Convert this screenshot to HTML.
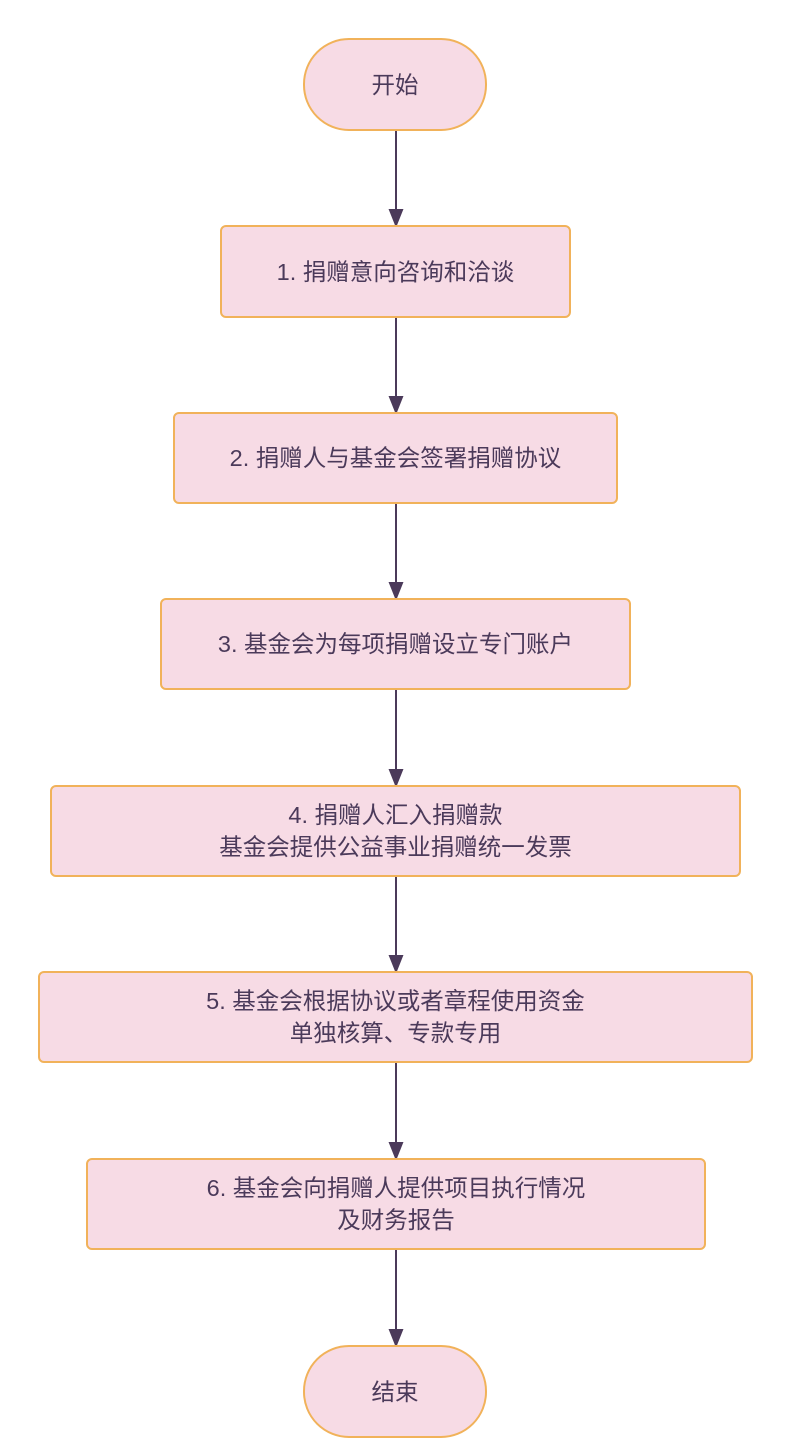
<!DOCTYPE html>
<html><head><meta charset="utf-8"><style>
body{margin:0;width:786px;height:1450px;background:#fff;position:relative;font-family:"Liberation Sans","Noto Sans CJK SC",sans-serif;}
.n{position:absolute;box-sizing:border-box;background:#f7dbe5;border:2.5px solid #f1b25a;border-radius:6px;display:flex;align-items:center;justify-content:center;text-align:center;color:#4b3a5a;font-size:23.5px;line-height:32px;}
.r{border-radius:46px;}
svg{position:absolute;left:0;top:0;}
</style></head><body>
<svg width="786" height="1450">
<g stroke="#4b3a5a" stroke-width="2" fill="#4b3a5a">
<line x1="396" y1="131" x2="396" y2="212"/><path d="M390,210 L402,210 L396,225Z"/>
<line x1="396" y1="318" x2="396" y2="399"/><path d="M390,397 L402,397 L396,412Z"/>
<line x1="396" y1="504" x2="396" y2="585"/><path d="M390,583 L402,583 L396,598Z"/>
<line x1="396" y1="690" x2="396" y2="772"/><path d="M390,770 L402,770 L396,785Z"/>
<line x1="396" y1="877" x2="396" y2="958"/><path d="M390,956 L402,956 L396,971Z"/>
<line x1="396" y1="1063" x2="396" y2="1145"/><path d="M390,1143 L402,1143 L396,1158Z"/>
<line x1="396" y1="1250" x2="396" y2="1332"/><path d="M390,1330 L402,1330 L396,1345Z"/>
</g></svg>
<div class="n r" style="left:303px;top:38px;width:184px;height:93px">开始</div>
<div class="n" style="left:220px;top:225px;width:351px;height:93px">1. 捐赠意向咨询和洽谈</div>
<div class="n" style="left:173px;top:412px;width:445px;height:92px">2. 捐赠人与基金会签署捐赠协议</div>
<div class="n" style="left:160px;top:598px;width:471px;height:92px">3. 基金会为每项捐赠设立专门账户</div>
<div class="n" style="left:50px;top:785px;width:691px;height:92px">4. 捐赠人汇入捐赠款<br>基金会提供公益事业捐赠统一发票</div>
<div class="n" style="left:38px;top:971px;width:715px;height:92px">5. 基金会根据协议或者章程使用资金<br>单独核算、专款专用</div>
<div class="n" style="left:86px;top:1158px;width:620px;height:92px">6. 基金会向捐赠人提供项目执行情况<br>及财务报告</div>
<div class="n r" style="left:303px;top:1345px;width:184px;height:93px">结束</div>
</body></html>
